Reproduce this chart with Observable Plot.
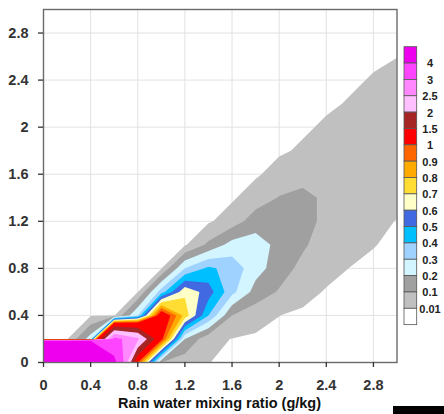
<!DOCTYPE html>
<html><head><meta charset="utf-8">
<script src="https://cdn.jsdelivr.net/npm/d3@7"></script>
<script src="https://cdn.jsdelivr.net/npm/@observablehq/plot@0.6"></script>
<style>
body{margin:0;background:#fff;}
#wrap{position:relative;width:444px;height:414px;overflow:hidden;font-family:"Liberation Sans",Arial,Helvetica,sans-serif;font-weight:bold;background:#fff;}
#chart{position:absolute;left:0;top:0;}
#legend{position:absolute;left:0;top:0;}
#xlabel{position:absolute;left:43px;width:353px;top:395px;text-align:center;font-size:14.5px;line-height:17px;color:#111;white-space:nowrap;}
#bar{position:absolute;left:393px;top:406px;width:51px;height:8px;background:#000;}
</style></head><body>
<div id="wrap"><div id="chart"></div><div id="legend"></div><div id="xlabel"></div><div id="bar"></div></div>
<script>
// axis ticks
const xTicks = [0, 0.4, 0.8, 1.2, 1.6, 2, 2.4, 2.8];
const yTicks = [0, 0.4, 0.8, 1.2, 1.6, 2, 2.4, 2.8];
const xLabel = "Rain water mixing ratio (g/kg)";

// contour levels and colours (colour[i] is for values below levels[i]; last is >= 4)
const levels = [0.01, 0.1, 0.2, 0.3, 0.4, 0.5, 0.6, 0.7, 0.8, 0.9, 1, 1.5, 2, 2.5, 3, 4];
const colors = ["#ffffff", "#c0c0c0", "#a0a0a0", "#d2f5ff", "#a0d2ff", "#00bfff", "#4169e1",
  "#ffffc8", "#ffdd33", "#ffaa00", "#ff6600", "#ff0000", "#a52525", "#ffc0ff", "#ff88ff", "#ff44ff", "#ee00ee"];

// gridded field, spacing 0.2 in x (0..3.0, 16 columns) and y (rows listed from y = 0 upward)
const gridX = [0, 0.2, 0.4, 0.6, 0.8, 1.0, 1.2, 1.4, 1.6, 1.8, 2.0, 2.2, 2.4, 2.6, 2.8, 3.0];
const row00 = [50, 50, 50, 4.3, 1.0, 0.1, 0.04, 0.011, 0, 0, 0, 0, 0, 0, 0, 0];
const row02 = [0, 0.005, 0.25, 3.2, 2.6, 1.05, 0.2, 0.03, 0.008, 0, 0, 0, 0, 0, 0, 0];
const row04 = [0, 0, 0.005, 0.005, 0.3, 1.15, 0.76, 0.4, 0.1, 0.04, 0.0105, 0, 0, 0, 0, 0];
const row06 = [0, 0, 0, 0, 0.008, 0.35, 0.68, 0.55, 0.33, 0.16, 0.09, 0.03, 0.005, 0, 0, 0];
const row08 = [0, 0, 0, 0, 0, 0.006, 0.3, 0.42, 0.36, 0.24, 0.15, 0.07, 0.03, 0.009, 0, 0];
const row10 = [0, 0, 0, 0, 0, 0, 0, 0.12, 0.24, 0.25, 0.17, 0.115, 0.05, 0.03, 0.012, 0];
const row12 = [0, 0, 0, 0, 0, 0, 0, 0, 0.05, 0.15, 0.16, 0.13, 0.08, 0.04, 0.025, 0.008];
const row14 = [0, 0, 0, 0, 0, 0, 0, 0, 0, 0.05, 0.105, 0.13, 0.08, 0.05, 0.04, 0.03];
const row16 = [0, 0, 0, 0, 0, 0, 0, 0, 0, 0, 0.04, 0.06, 0.05, 0.04, 0.035, 0.03];
const row18 = [0, 0, 0, 0, 0, 0, 0, 0, 0, 0, 0, 0.02, 0.035, 0.035, 0.03, 0.03];
const row20 = [0, 0, 0, 0, 0, 0, 0, 0, 0, 0, 0, 0, 0.02, 0.03, 0.03, 0.03];
const row22 = [0, 0, 0, 0, 0, 0, 0, 0, 0, 0, 0, 0, 0, 0.015, 0.03, 0.03];
const row24 = [0, 0, 0, 0, 0, 0, 0, 0, 0, 0, 0, 0, 0, 0, 0.015, 0.03];
const row26 = [0, 0, 0, 0, 0, 0, 0, 0, 0, 0, 0, 0, 0, 0, 0, 0.009];
const row28 = [0, 0, 0, 0, 0, 0, 0, 0, 0, 0, 0, 0, 0, 0, 0, 0];
const row30 = [0, 0, 0, 0, 0, 0, 0, 0, 0, 0, 0, 0, 0, 0, 0, 0];

const rows = [row00, row02, row04, row06, row08, row10, row12, row14, row16, row18, row20, row22, row24, row26, row28, row30];
const values = rows.flat();
const nx = gridX.length, ny = rows.length;
const step = gridX[1] - gridX[0];

const fmt = d3.format("~g");

const chart = Plot.plot({
  width: 444,
  height: 414,
  marginTop: 9,
  marginBottom: 52,
  marginLeft: 43,
  marginRight: 47.5,
  style: {fontFamily: "'Liberation Sans', Arial, Helvetica, sans-serif", fontWeight: "bold", fontSize: "14.5px", background: "transparent", overflow: "visible"},
  x: {domain: [0, 3]},
  y: {domain: [0, 3]},
  color: {type: "threshold", domain: levels, range: colors},
  marks: [
    Plot.gridX(xTicks, {stroke: "#e2e2e2", strokeOpacity: 1}),
    Plot.gridY(yTicks, {stroke: "#e2e2e2", strokeOpacity: 1}),
    Plot.contour(values, {
      width: nx, height: ny,
      x1: gridX[0] - step / 2, x2: gridX[nx - 1] + step / 2,
      y1: -step / 2, y2: (ny - 1) * step + step / 2,
      fill: Plot.identity,
      thresholds: levels,
      stroke: "none",
      clip: true
    }),
    Plot.frame({stroke: "#6a6a6a", strokeWidth: 1.4}),
    Plot.axisX(xTicks, {tickSize: 5, tickPadding: 12, tickFormat: fmt, label: null, color: "#333", strokeWidth: 1.3}),
    Plot.axisY(yTicks, {tickSize: 5, tickPadding: 10, tickFormat: fmt, label: null, color: "#333", strokeWidth: 1.3})
  ]
});
document.getElementById("chart").appendChild(chart);
document.getElementById("xlabel").textContent = xLabel;

// vertical label bar legend
const boxTop = 46.7, boxH = 16.35, boxX = 404, boxW = 12.7;
const legendColors = colors.slice().reverse();
const legendLevels = levels.slice().reverse();
const lsvg = d3.select("#legend").append("svg").attr("width", 444).attr("height", 414)
  .style("font-family", "'Liberation Sans', Arial, Helvetica, sans-serif").style("font-weight", "bold");
lsvg.selectAll("rect").data(legendColors).join("rect")
  .attr("x", boxX).attr("y", (d, i) => boxTop + i * boxH)
  .attr("width", boxW).attr("height", boxH)
  .attr("fill", d => d).attr("stroke", "#555").attr("stroke-width", 0.8);
lsvg.selectAll("text").data(legendLevels).join("text")
  .attr("x", 430).attr("y", (d, i) => boxTop + (i + 1) * boxH + 1.5)
  .attr("text-anchor", "middle").attr("dominant-baseline", "middle")
  .attr("font-size", 11).attr("fill", "#222")
  .text(d => fmt(d));
</script></body></html>
